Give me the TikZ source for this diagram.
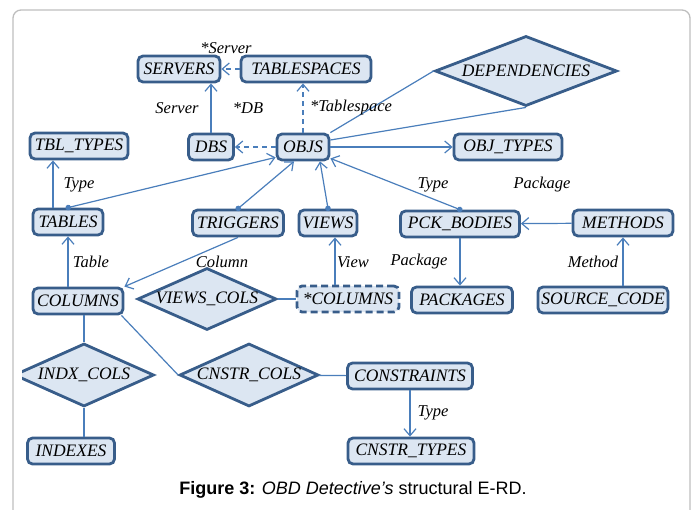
\documentclass[tikz,border=0pt]{standalone}
\usepackage{fontspec}
\setmainfont{Liberation Serif}
\newfontfamily\erfont{Liberation Serif}
\newfontfamily\capfont{Liberation Sans}
\usetikzlibrary{shapes.geometric,arrows.meta}
\definecolor{boxfill}{HTML}{DCE6F2}
\definecolor{boxline}{HTML}{385D8A}
\definecolor{linkcol}{HTML}{4A7EBB}
\definecolor{framecol}{HTML}{BEBEBE}
\tikzset{
  entity/.style={draw=boxline, fill=boxfill, line width=2.8pt, rounded corners=5pt,
    minimum height=26pt, inner sep=2pt, font=\erfont\fontsize{17.5}{20}\selectfont\itshape},
  weakentity/.style={entity, dash pattern=on 7pt off 4pt},
  relship/.style={diamond, draw=boxline, fill=boxfill, line width=2.8pt, inner sep=0pt,
    aspect=2.2, font=\erfont\fontsize{17.5}{20}\selectfont\itshape},
  link/.style={draw=linkcol, line width=1.2pt},
  conn/.style={link, -{Straight Barb[length=7pt,width=12pt]}},
  dotconn/.style={link, {Circle[length=5.5pt]}-{Straight Barb[length=7pt,width=12pt]}, shorten <=-2.5pt},
  dashlink/.style={dash pattern=on 5pt off 4pt},
  lbl/.style={font=\erfont\fontsize{16.5}{19}\selectfont\itshape}
}
\begin{document}
\begin{tikzpicture}[x=1pt, y=-1pt]
  \useasboundingbox (0,0) rectangle (695,510);
  % frame
  \draw [framecol, line width=1.3pt, rounded corners=8pt] (13,540) -- (13,10) -- (690,10) -- (690,540);
  % entities
  \node [entity, minimum width=82pt] (servers) at (179,69) {SERVERS};
  \node [entity, minimum width=130pt] (tablespaces) at (306,69) {TABLESPACES};
  \node [relship, minimum width=182pt, minimum height=67pt] (deps) at (526,71) {DEPENDENCIES};
  \node [entity, minimum width=98pt] (tbltypes) at (79,146) {TBL\_TYPES};
  \node [entity, minimum width=45pt] (dbs) at (211,147) {DBS};
  \node [entity, minimum width=52pt] (objs) at (303,147) {OBJS};
  \node [entity, minimum width=108pt] (objtypes) at (508,147) {OBJ\_TYPES};
  \node [entity, minimum width=70pt] (tables) at (68,222) {TABLES};
  \node [entity, minimum width=91pt] (triggers) at (238,223) {TRIGGERS};
  \node [entity, minimum width=58pt] (views) at (328,223) {VIEWS};
  \node [entity, minimum width=119pt] (pckbodies) at (460,224) {PCK\_BODIES};
  \node [entity, minimum width=100pt] (methods) at (623,223) {METHODS};
  \node [entity, minimum width=90pt] (columns) at (78,301) {COLUMNS};
  \node [relship, minimum width=139pt, minimum height=62pt] (viewscols) at (207,299) {VIEWS\_COLS};
  \node [weakentity, minimum width=102pt] (starcolumns) at (348,299) {*COLUMNS};
  \node [entity, minimum width=101pt] (packages) at (462,300) {PACKAGES};
  \node [entity, minimum width=130pt] (sourcecode) at (603,300) {SOURCE\_CODE};
  \begin{scope}
    \clip (22,330) rectangle (200,420);
    \node [relship, minimum width=140pt, minimum height=63pt] (indxcols) at (84,375) {INDX\_COLS};
  \end{scope}
  \node [relship, minimum width=139pt, minimum height=63pt] (cnstrcols) at (249,375) {CNSTR\_COLS};
  \node [entity, minimum width=125pt] (constraints) at (410,376) {CONSTRAINTS};
  \node [entity, minimum width=87pt] (indexes) at (71,451) {INDEXES};
  \node [entity, minimum width=126pt] (cnstrtypes) at (411,451) {CNSTR\_TYPES};
  % connectors
  \draw [conn, dashlink] (tablespaces) -- (servers);
  \draw [conn] (dbs.north) -- (dbs.north |- servers.south);
  \draw [conn, dashlink] (objs.north) -- (objs.north |- tablespaces.south);
  \draw [conn, dashlink] (objs) -- (dbs);
  \draw [link] (objs.north east) -- (deps.west);
  \draw [link] ([yshift=7pt]objs.east) -- (deps.south);
  \draw [conn] (objs) -- (objtypes);
  \draw [conn] ([xshift=-15pt]tables.north) -- ([xshift=-15pt]tables.north |- tbltypes.south);
  \draw [dotconn] (tables.north) -- ([yshift=4pt]objs.south west);
  \draw [dotconn] (triggers.north) -- ([xshift=-9pt]objs.south);
  \draw [dotconn] (views.north) -- ([xshift=17pt]objs.south);
  \draw [dotconn] (pckbodies.north) -- ([yshift=3pt]objs.south east);
  \draw [conn] (methods) -- (pckbodies);
  \draw [conn] (pckbodies.south) -- (pckbodies.south |- packages.north);
  \draw [conn] (methods.south |- sourcecode.north) -- (methods.south);
  \draw [conn] (tables.south |- columns.north) -- (tables.south);
  \draw [conn] (triggers.south) -- (columns.north east);
  \draw [conn] ([xshift=-13pt]starcolumns.north) -- ([xshift=-13pt]starcolumns.north |- views.south);
  \draw [link] (viewscols.east) -- (starcolumns.west);
  \draw [link] (indxcols.north |- columns.south) -- (indxcols.north);
  \draw [link] (indxcols.south) -- (indxcols.south |- indexes.north);
  \draw [link] ([xshift=-3pt]columns.south east) -- (cnstrcols.west);
  \draw [link] (cnstrcols) -- (constraints);
  \draw [conn] (constraints.south) -- (constraints.south |- cnstrtypes.north);
  % labels
  \node [lbl] (lserver1) at (226,48) {*Server};
  \node [lbl] (lserver2) at (177,108) {Server};
  \node [lbl] (ldb) at (248,108) {*DB};
  \node [lbl] (ltblspace) at (351,108) {*Tablespace};
  \node [lbl] (ltype1) at (79,185) {Type};
  \node [lbl] (ltype2) at (433,185) {Type};
  \node [lbl] (lpackage1) at (542,185) {Package};
  \node [lbl] (ltable) at (91,262) {Table};
  \node [lbl] (lcolumn) at (222,262) {Column};
  \node [lbl] (lview) at (353,262) {View};
  \node [lbl] (lpackage2) at (419,262) {Package};
  \node [lbl] (lmethod) at (593,262) {Method};
  \node [lbl] (ltype3) at (433,413) {Type};
  % caption
  \node (caption) at (353,490) {\capfont\fontsize{18}{21}\selectfont\textbf{Figure 3:} \textit{OBD Detective’s} structural E-RD.};
\end{tikzpicture}
\end{document}
